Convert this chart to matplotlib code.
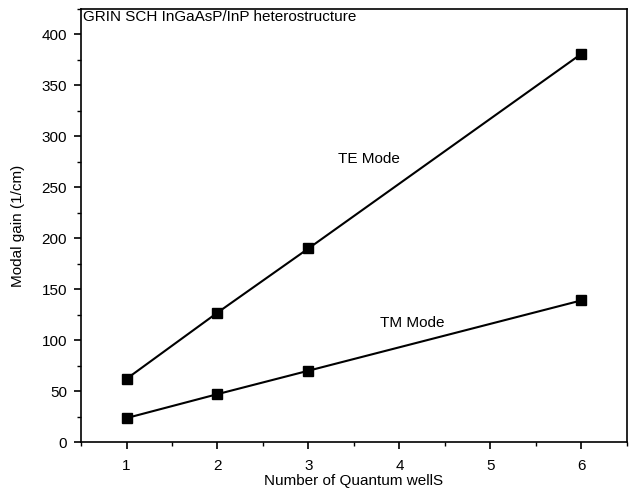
import matplotlib
matplotlib.use("Agg")
import matplotlib.pyplot as plt
from matplotlib.ticker import MultipleLocator

plt.rcParams['font.family'] = ['Liberation Sans', 'DejaVu Sans']

# Data
wells = [1, 2, 3, 6]
te_gain = [62, 127, 190, 381]
tm_gain = [23.5, 47, 70, 139]

fig = plt.figure(figsize=(6.3, 4.93), dpi=100)
ax = fig.add_axes([0.1286, 0.1034, 0.8664, 0.8783])

ax.plot(wells, te_gain, color='black', linewidth=1.5, marker='s', markersize=7)
ax.plot(wells, tm_gain, color='black', linewidth=1.5, marker='s', markersize=7)

ax.set_xlim(0.5, 6.5)
ax.set_ylim(0, 425)
ax.xaxis.set_major_locator(MultipleLocator(1))
ax.xaxis.set_minor_locator(MultipleLocator(0.5))
ax.yaxis.set_major_locator(MultipleLocator(50))
ax.yaxis.set_minor_locator(MultipleLocator(25))
ax.tick_params(which='major', direction='out', length=5, width=1.2, labelsize=11)
ax.tick_params(which='minor', direction='out', length=3, width=1.0)
ax.tick_params(axis='x', pad=7)
ax.tick_params(axis='y', pad=5)
for s in ax.spines.values():
    s.set_linewidth(1.2)

ax.set_xlabel("Number of Quantum wellS", fontsize=11, labelpad=1)
ax.set_ylabel("Modal gain (1/cm)", fontsize=11, labelpad=12)

ax.text(0.003, 0.997, "GRIN SCH InGaAsP/InP heterostructure", transform=ax.transAxes,
        ha='left', va='top', fontsize=11)
ax.text(3.67, 278, "TE Mode", ha='center', va='center', fontsize=11)
ax.text(4.14, 117, "TM Mode", ha='center', va='center', fontsize=11)

fig.savefig("out.png", dpi=100)
